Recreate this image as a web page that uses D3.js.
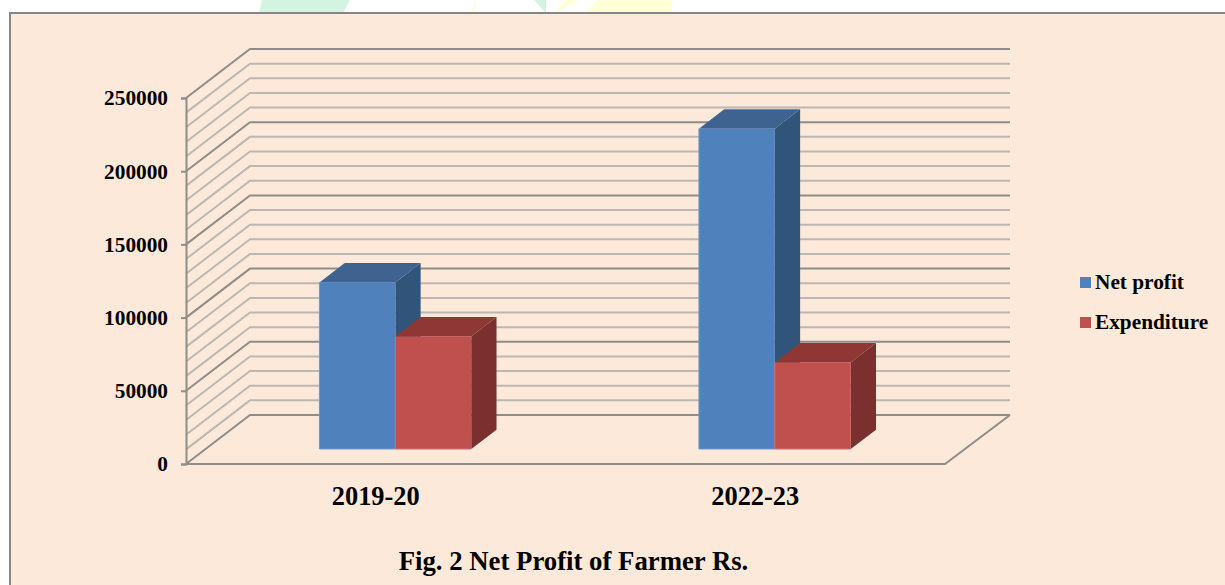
<!DOCTYPE html>
<html>
<head>
<meta charset="utf-8">
<script src="https://cdn.jsdelivr.net/npm/d3@7"></script>
<style>
  html, body { margin: 0; padding: 0; background: #fff; }
  svg { display: block; }
  text { font-family: "Liberation Serif", serif; font-weight: bold; fill: #000; }
</style>
</head>
<body>
<svg width="1225" height="585"></svg>
<script>
var categories = ["2019-20", "2022-23"];
var seriesNames = ["Net profit", "Expenditure"];
var netProfit = [113800, 218800];
var expenditure = [76900, 59150];
var seriesValues = [netProfit, expenditure];
var yTicks = [0, 50000, 100000, 150000, 200000, 250000];
var gridValues = d3.range(0, 250001, 10000);
var chartTitle = "Fig. 2 Net Profit of Farmer Rs.";

var colors = {
  "Net profit": {front: "#4f81bd", top: "#3e6390", side: "#31547a", edge: "#6f97c8"},
  "Expenditure": {front: "#c0504d", top: "#8e3735", side: "#7b2f2e", edge: "#cf6f6c"}
};

var svg = d3.select("svg");

// bits of the page watermark showing above the chart box
var wm = svg.append("g");
wm.append("path").attr("d", "M262,0L350,0L343,13L259,13Z").attr("fill", "#d2f4e0");
wm.append("path").attr("d", "M534,0L546,0L546,13Z").attr("fill", "#d2f4e0");
wm.append("path").attr("d", "M477,0L470,13L473,13Z").attr("fill", "#ffffd8");
wm.append("path").attr("d", "M565,0L577,0L557,13L556,13Z").attr("fill", "#ffffd8");
wm.append("path").attr("d", "M598,0L672,0L672,13L585,13Z").attr("fill", "#ffffd8");

svg.append("rect")
  .attr("x", 10).attr("y", 13)
  .attr("width", 1240).attr("height", 600)
  .attr("fill", "#fde9d9")
  .attr("stroke", "#868686")
  .attr("stroke-width", 2);

var x0 = 186, xEnd = 945;      // front edge of the floor
var depthX = 64, depthY = 49;  // wall depth
var wallRight = 1010;

var y = d3.scaleLinear().domain([0, 250000]).range([464, 98]);
var xCat = d3.scaleBand().domain(categories).range([x0, xEnd]);
var xSer = d3.scaleBand().domain(seriesNames)
  .range([xCat.bandwidth() * 0.3, xCat.bandwidth() * 0.7]);

// side wall + back wall lines
var grid = svg.append("g").attr("fill", "none");
grid.selectAll("path")
  .data(gridValues.slice().sort(function(a, b) { return (a % 50000 === 0) - (b % 50000 === 0); }))
  .enter().append("path")
  .attr("d", function(d) {
    return d3.line()([[x0, y(d)], [x0 + depthX, y(d) - depthY], [wallRight, y(d) - depthY]]);
  })
  .attr("stroke", function(d) { return d % 50000 === 0 ? "#8f8d8a" : "#bbb8b4"; })
  .attr("stroke-width", 2);

// floor front edges
grid.append("path")
  .attr("d", d3.line()([[x0, y(0)], [xEnd, y(0)], [wallRight, y(0) - depthY]]))
  .attr("stroke", "#8f8d8a")
  .attr("stroke-width", 2);

// y axis
var yAxis = d3.axisLeft(y).tickValues(yTicks).tickSize(5).tickPadding(13).tickFormat(d3.format("d"));
var yG = svg.append("g").attr("transform", "translate(" + x0 + ",0)").call(yAxis);
yG.selectAll("path, line").attr("stroke", "#8f8d8a").attr("stroke-width", 2);
yG.selectAll("text").attr("font-size", 21.3).attr("fill", "#000").attr("font-family", "Liberation Serif");

// 3d bars
var frontOffset = 15 / depthY;   // where the front face stands on the floor
var barDepth = 0.395;
var baseY = y(0) - frontOffset * depthY;
var shiftX = frontOffset * depthX;
var dx = barDepth * depthX, dy = barDepth * depthY;

var barData = [];
categories.forEach(function(c, i) {
  seriesNames.forEach(function(s, j) {
    barData.push({cat: c, name: s, value: seriesValues[j][i]});
  });
});

var bars = svg.append("g").selectAll("g").data(barData).enter().append("g");

bars.each(function(d) {
  var g = d3.select(this);
  var c = colors[d.name];
  var left = xCat(d.cat) + xSer(d.name) + shiftX;
  var right = left + xSer.bandwidth();
  var h = y(0) - y(d.value);
  var top = baseY - h;
  g.append("path")
    .attr("d", d3.line()([[right, top], [right + dx, top - dy], [right + dx, baseY - dy], [right, baseY]]) + "Z")
    .attr("fill", c.side);
  g.append("path")
    .attr("d", d3.line()([[left, top], [left + dx, top - dy], [right + dx, top - dy], [right, top]]) + "Z")
    .attr("fill", c.top);
  g.append("rect")
    .attr("x", left).attr("y", top)
    .attr("width", right - left).attr("height", h)
    .attr("fill", c.front);
  g.append("path")
    .attr("d", d3.line()([[left, top], [left, baseY], [right, baseY]]))
    .attr("fill", "none")
    .attr("stroke", c.edge)
    .attr("stroke-width", 1);
});

// category labels
svg.append("g").selectAll("text").data(categories).enter().append("text")
  .attr("x", function(d) { return xCat(d) + xCat.bandwidth() / 2; })
  .attr("y", 505)
  .attr("text-anchor", "middle")
  .attr("font-size", 26.4)
  .text(function(d) { return d; });

// legend
var legend = svg.append("g").selectAll("g").data(seriesNames).enter().append("g")
  .attr("transform", function(d, i) { return "translate(1080," + (277 + i * 40) + ")"; });
legend.append("rect")
  .attr("width", 11).attr("height", 11)
  .attr("fill", function(d) { return colors[d].front; });
legend.append("text")
  .attr("x", 15).attr("y", 12)
  .attr("font-size", 21.3)
  .text(function(d) { return d; });

svg.append("text")
  .attr("x", 573.5).attr("y", 570)
  .attr("text-anchor", "middle")
  .attr("font-size", 26.75)
  .text(chartTitle);
</script>
</body>
</html>
